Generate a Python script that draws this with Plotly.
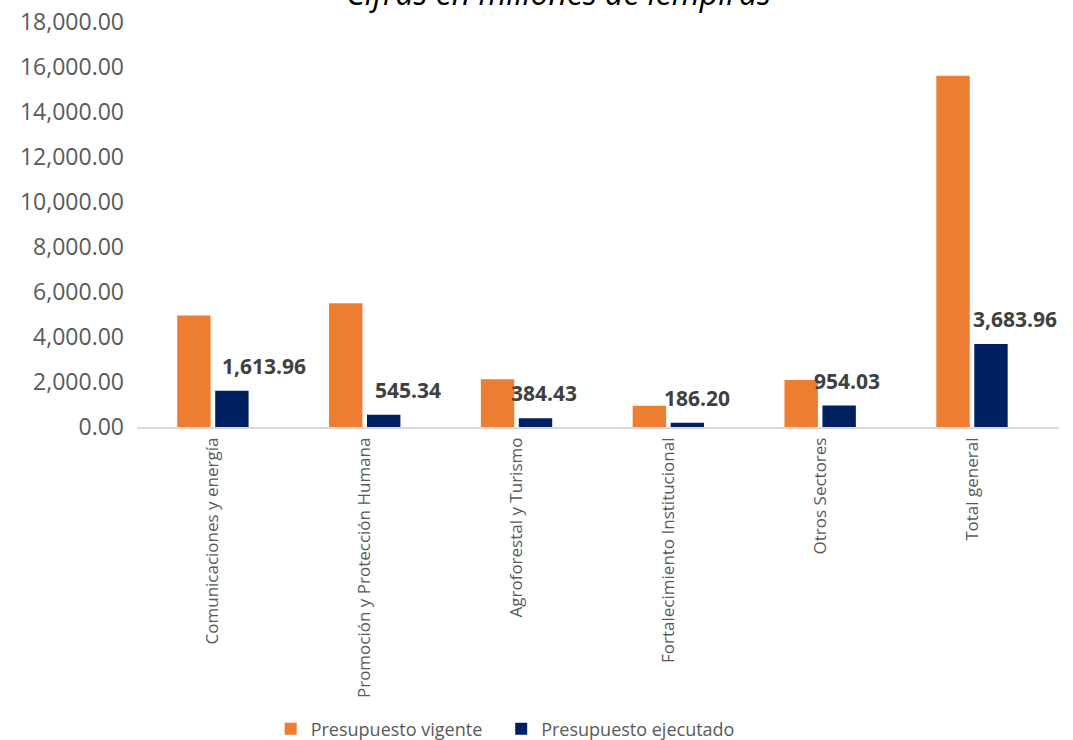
import plotly.graph_objects as go

categorias = [
    "Comunicaciones y energía",
    "Promoción y Protección Humana",
    "Agroforestal y Turismo",
    "Fortalecimiento Institucional",
    "Otros Sectores",
    "Total general",
]
vigente = [4960, 5500, 2120, 940, 2090, 15610]
ejecutado = [1613.96, 545.34, 384.43, 186.20, 954.03, 3683.96]

# desplazamiento horizontal de cada etiqueta (px), como en el original
label_dx = [51, 43, 27, 29, 27, 43]

NARANJA = "#ED7D31"
AZUL = "#002060"
FUENTE = "Open Sans"

fig = go.Figure()

fig.add_trace(go.Bar(
    x=categorias,
    y=vigente,
    name="Presupuesto vigente",
    marker=dict(color=NARANJA, line=dict(width=0)),
    legend="legend",
    showlegend=True,
))

fig.add_trace(go.Bar(
    x=categorias,
    y=ejecutado,
    name="Presupuesto ejecutado",
    marker=dict(color=AZUL, line=dict(width=0)),
    legend="legend2",
    showlegend=True,
))

# etiquetas de datos del presupuesto ejecutado
for cat, val, dx in zip(categorias, ejecutado, label_dx):
    fig.add_annotation(
        x=cat, y=val,
        text=f"<b>{val:,.2f}</b>",
        showarrow=False,
        xshift=dx, yshift=25,
        yanchor="middle",
        font=dict(family=FUENTE, size=21, color="#404040"),
    )

# titulo (recortado arriba, como en la imagen)
fig.add_annotation(
    xref="paper", yref="paper",
    x=0.457, y=1.074,
    text="<i>Cifras en millones de lempiras</i>",
    showarrow=False,
    xanchor="center", yanchor="middle",
    font=dict(family=FUENTE, size=32, color="#000000"),
)

leyenda = dict(
    orientation="h",
    xanchor="left",
    y=-0.746, yanchor="middle",
    font=dict(family=FUENTE, size=18, color="#595959"),
    bgcolor="rgba(0,0,0,0)",
)

fig.update_layout(
    width=1073,
    height=740,
    margin=dict(l=137, r=14, t=22, b=313, autoexpand=False),
    plot_bgcolor="white",
    paper_bgcolor="white",
    barmode="group",
    bargap=0.5,
    bargroupgap=0.12,
    font=dict(family=FUENTE, color="#595959"),
    showlegend=True,
    legend=dict(leyenda, x=0.145),
    legend2=dict(leyenda, x=0.395),
    xaxis=dict(
        automargin=False,
        showgrid=False,
        showline=True,
        linecolor="#D9D9D9",
        linewidth=1.5,
        tickangle=-90,
        ticks="",
        ticklabelstandoff=2,
        tickfont=dict(family=FUENTE, size=17, color="#595959"),
    ),
    yaxis=dict(
        automargin=False,
        range=[0, 18000],
        dtick=2000,
        tickformat=",.2f",
        showgrid=False,
        zeroline=False,
        showline=False,
        ticks="",
        ticklabelstandoff=12,
        ticklabeloverflow="allow",
        tickfont=dict(family=FUENTE, size=23, color="#595959"),
    ),
)

# sin el margen por defecto del body, para que la figura empiece en (0, 0)
fig.write_html(
    "out.html",
    config={"displayModeBar": False},
    post_script="document.body.style.margin = '0';",
)
